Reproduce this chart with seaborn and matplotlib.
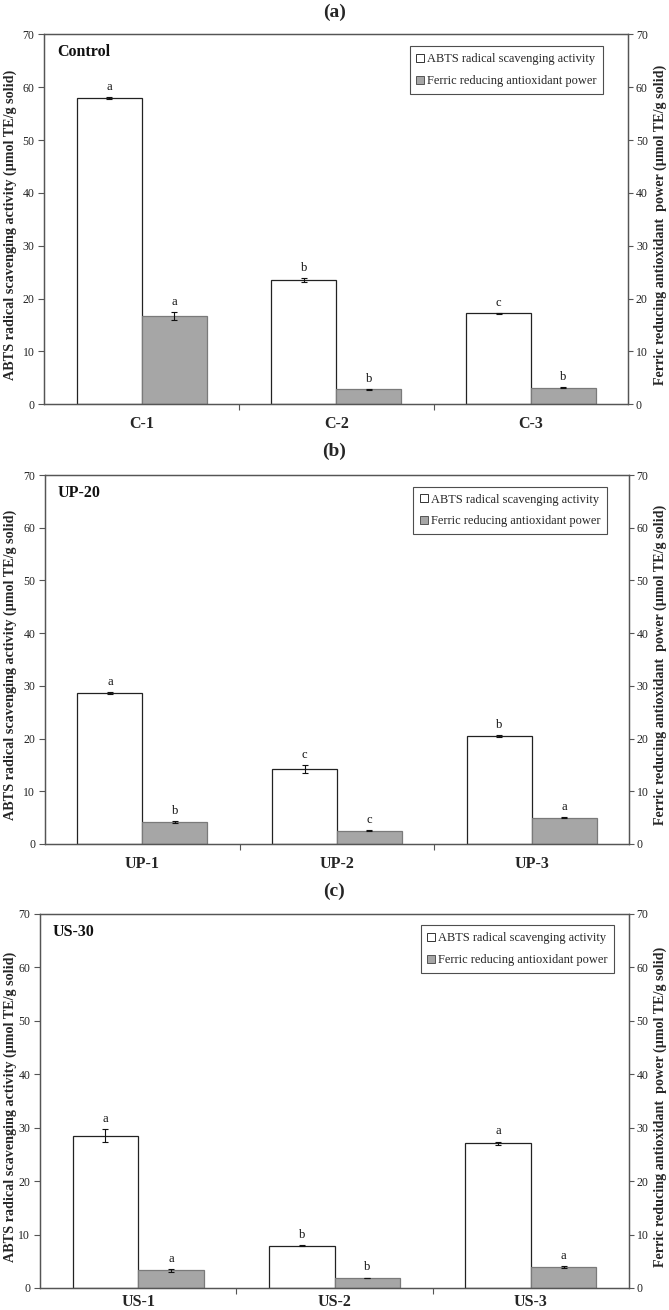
import matplotlib
matplotlib.use("Agg")
import matplotlib.pyplot as plt
from matplotlib.lines import Line2D
from matplotlib.ticker import FixedLocator, NullFormatter
import seaborn as sns
import pandas as pd

sns.set_theme(style="white")
plt.rcParams['font.family'] = ['Liberation Serif', 'DejaVu Serif']

# ---------------- data ----------------
series_names = ["ABTS radical scavenging activity", "Ferric reducing antioxidant power"]

panel_titles = ["(a)", "(b)", "(c)"]
panel_tags = ["Control", "UP-20", "US-30"]

cats_a = ["C-1", "C-2", "C-3"]
abts_a = [58.0, 23.5, 17.2]
abts_err_a = [0.15, 0.4, 0.1]
frap_a = [16.7, 2.8, 3.1]
frap_err_a = [0.7, 0.1, 0.1]
abts_let_a = ["a", "b", "c"]
frap_let_a = ["a", "b", "b"]

cats_b = ["UP-1", "UP-2", "UP-3"]
abts_b = [28.6, 14.2, 20.5]
abts_err_b = [0.2, 0.8, 0.2]
frap_b = [4.1, 2.5, 5.0]
frap_err_b = [0.2, 0.1, 0.1]
abts_let_b = ["a", "c", "b"]
frap_let_b = ["b", "c", "a"]

cats_c = ["US-1", "US-2", "US-3"]
abts_c = [28.5, 7.9, 27.1]
abts_err_c = [1.2, 0.1, 0.3]
frap_c = [3.3, 1.9, 3.9]
frap_err_c = [0.3, 0.05, 0.2]
abts_let_c = ["a", "b", "a"]
frap_let_c = ["a", "b", "a"]

y_ticks = [0, 10, 20, 30, 40, 50, 60, 70]
ylabel_left = "ABTS radical scavenging activity (µmol TE/g solid)"
ylabel_right = "Ferric reducing antioxidant  power (µmol TE/g solid)"

panels = [
    (cats_a, abts_a, abts_err_a, frap_a, frap_err_a, abts_let_a, frap_let_a),
    (cats_b, abts_b, abts_err_b, frap_b, frap_err_b, abts_let_b, frap_let_b),
    (cats_c, abts_c, abts_err_c, frap_c, frap_err_c, abts_let_c, frap_let_c),
]

# ---------------- layout (pixels) ----------------
W, H = 669, 1310
boxes = [  # left, right, top, bottom
    (44.3, 628.3, 34.3, 404.3),
    (45.0, 629.0, 475.0, 844.0),
    (40.0, 629.0, 914.0, 1288.0),
]
title_y = [12, 451, 891]
xlabel_pad = [8.5, 8.5, 4.5]
legend_anchor = [(0.957, 0.968), (0.962, 0.968), (0.975, 0.970)]

fig = plt.figure(figsize=(W / 100, H / 100), dpi=100)
fig.patch.set_facecolor("white")

spine_col = "#555555"
face_cols = ["white", "#a6a6a6"]
edge_cols = ["#222222", "#7a7a7a"]

for i, (cats, abts, abts_err, frap, frap_err, la, lf) in enumerate(panels):
    l, r, t, b = boxes[i]
    ax = fig.add_axes([l / W, 1 - b / H, (r - l) / W, (b - t) / H])

    df = pd.DataFrame({
        "cat": cats * 2,
        "val": list(abts) + list(frap),
        "series": [series_names[0]] * 3 + [series_names[1]] * 3,
    })
    sns.barplot(data=df, x="cat", y="val", hue="series", order=cats,
                hue_order=series_names, palette=face_cols, width=0.667,
                errorbar=None, ax=ax, legend=False, saturation=1)
    bars = ax.patches
    for j, p in enumerate(bars):
        s = j // 3
        p.set_edgecolor(edge_cols[s])
        p.set_linewidth(0.9)
    for s, (vals, errs, lets) in enumerate([(abts, abts_err, la), (frap, frap_err, lf)]):
        for k in range(3):
            p = bars[s * 3 + k]
            xc = p.get_x() + p.get_width() / 2
            ax.errorbar(xc, vals[k], yerr=errs[k], fmt="none", ecolor="#111111",
                        elinewidth=0.8, capsize=2.0, capthick=0.8, zorder=5)
            ax.annotate(lets[k], (xc, vals[k] + errs[k]), xytext=(0, 3),
                        textcoords="offset points", ha="center", va="bottom",
                        fontsize=9, color="#111111")

    ax.set_xlim(-0.5, 2.5)
    ax.set_ylim(0, 70)
    ax.set_yticks(y_ticks)
    ax.set_xlabel("")
    ax.set_ylabel(ylabel_left, fontsize=10.2, fontweight="bold")
    ax.yaxis.set_label_coords((17 - l) / (r - l), 0.485)
    ax.tick_params(axis="y", which="major", direction="out", length=4, width=0.8,
                   color=spine_col, labelsize=8.5, labelcolor="#222222", pad=3, left=True)
    ax.xaxis.set_minor_locator(FixedLocator([0.5, 1.5]))
    ax.xaxis.set_minor_formatter(NullFormatter())
    ax.tick_params(axis="x", which="major", length=0, pad=xlabel_pad[i], labelsize=11.5)
    ax.tick_params(axis="x", which="minor", direction="out", length=4, width=0.8,
                   color=spine_col, bottom=True)
    for lab in ax.get_xticklabels():
        lab.set_fontweight("bold")
    for sp in ax.spines.values():
        sp.set_color(spine_col)
        sp.set_linewidth(0.9)
        sp.set_visible(True)

    ax2 = ax.twinx()
    ax2.set_ylim(0, 70)
    ax2.set_yticks(y_ticks)
    ax2.tick_params(axis="y", direction="out", length=3.5, width=0.8, color=spine_col,
                    labelsize=8.5, labelcolor="#222222", pad=2, right=True)
    ax2.set_ylabel(ylabel_right, fontsize=10.2, fontweight="bold")
    ax2.yaxis.set_label_coords((654 - l) / (r - l), 0.485)
    for sp in ax2.spines.values():
        sp.set_color(spine_col)
        sp.set_linewidth(0.9)
    ax2.grid(False)
    ax.grid(False)

    handles = [
        Line2D([], [], marker="s", linestyle="none", markersize=5.5,
               markerfacecolor=face_cols[0], markeredgecolor="#333333", markeredgewidth=0.7),
        Line2D([], [], marker="s", linestyle="none", markersize=5.5,
               markerfacecolor=face_cols[1], markeredgecolor="#555555", markeredgewidth=0.7),
    ]
    leg = ax.legend(handles, series_names, loc="upper right",
                    bbox_to_anchor=legend_anchor[i], frameon=True, fancybox=False,
                    edgecolor="#222222", fontsize=8.9, handlelength=0.6,
                    handletextpad=0.25, labelspacing=0.8, borderpad=0.55,
                    borderaxespad=0)
    leg.get_frame().set_linewidth(0.8)
    leg.set_zorder(10)

    ax.text(0.022, 0.952, panel_tags[i], transform=ax.transAxes, fontsize=11.5,
            fontweight="bold", ha="left", va="center", color="#111111")

    fig.text(0.5, 1 - title_y[i] / H, panel_titles[i], ha="center", va="center",
             fontsize=14, fontweight="bold")

fig.savefig("out.png", dpi=100, facecolor="white")
